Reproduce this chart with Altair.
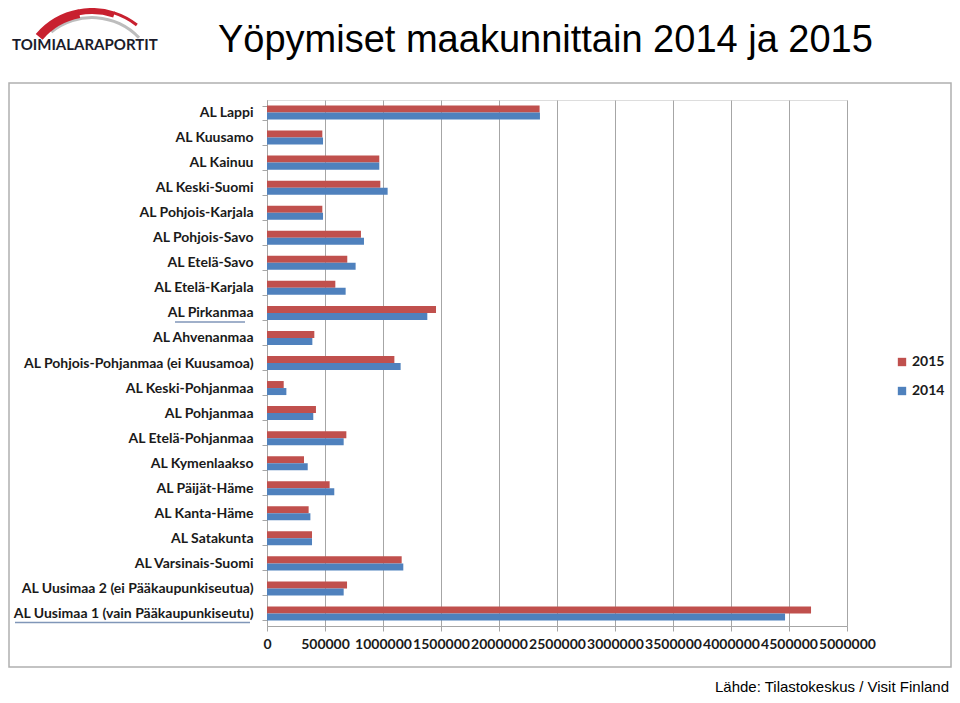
import altair as alt
import pandas as pd

regions = [
    "AL Lappi", "AL Kuusamo", "AL Kainuu", "AL Keski-Suomi", "AL Pohjois-Karjala",
    "AL Pohjois-Savo", "AL Etelä-Savo", "AL Etelä-Karjala", "AL Pirkanmaa",
    "AL Ahvenanmaa", "AL Pohjois-Pohjanmaa (ei Kuusamoa)", "AL Keski-Pohjanmaa",
    "AL Pohjanmaa", "AL Etelä-Pohjanmaa", "AL Kymenlaakso", "AL Päijät-Häme",
    "AL Kanta-Häme", "AL Satakunta", "AL Varsinais-Suomi",
    "AL Uusimaa 2 (ei Pääkaupunkiseutua)", "AL Uusimaa 1 (vain Pääkaupunkiseutu)",
]
v2015 = [2350000, 477000, 968000, 977000, 477000, 810000, 692000, 589000, 1457000,
         408000, 1098000, 144000, 422000, 684000, 319000, 540000, 359000, 388000,
         1161000, 690000, 4690000]
v2014 = [2353000, 483000, 968000, 1040000, 483000, 836000, 764000, 678000, 1382000,
         391000, 1152000, 167000, 399000, 661000, 351000, 580000, 374000, 388000,
         1175000, 661000, 4466000]
years = ["2015", "2014"]
colors = ["#C0504D", "#4F81BD"]
x_ticks = [0, 500000, 1000000, 1500000, 2000000, 2500000, 3000000, 3500000,
           4000000, 4500000, 5000000]

rows = []
for r, a, b in zip(regions, v2015, v2014):
    rows.append({"region": r, "year": "2015", "value": a})
    rows.append({"region": r, "year": "2014", "value": b})
df = pd.DataFrame(rows)

y_enc = alt.Y("region:N", sort=regions,
              scale=alt.Scale(paddingInner=0.44, paddingOuter=0.22),
              axis=alt.Axis(title=None, tickBand="extent", grid=False,
                            domainColor="#a6a6a6", tickColor="#a6a6a6", tickSize=5,
                            labelPadding=9, labelFont="Lato", labelFontSize=14,
                            labelFontWeight="bold", labelColor="#1a1a1a", labelLimit=400))

bars = alt.Chart(df).mark_bar().encode(
    x=alt.X("value:Q", scale=alt.Scale(domain=[0, 5000000], nice=False),
            axis=alt.Axis(values=x_ticks, format="d", title=None, grid=True,
                          gridColor="#a6a6a6", domainColor="#a6a6a6",
                          tickColor="#a6a6a6", tickSize=5, labelPadding=6,
                          labelOverlap=False, labelFlush=False,
                          labelFont="Lato", labelFontSize=14, labelFontWeight="bold",
                          labelColor="#1a1a1a")),
    y=y_enc,
    yOffset=alt.YOffset("year:N", sort=years, scale=alt.Scale(paddingInner=0, paddingOuter=0)),
    color=alt.Color("year:N", sort=years,
                    scale=alt.Scale(domain=years, range=colors),
                    legend=alt.Legend(title=None, orient="none", legendX=628, legendY=255,
                                      symbolType="square", symbolSize=70,
                                      symbolStrokeWidth=0, rowPadding=15, labelOffset=3,
                                      labelFont="Lato", labelFontSize=14,
                                      labelFontWeight="bold", labelColor="#1a1a1a")),
)

one = alt.Data(values=[{}])

frame = alt.Chart(one).mark_rect(fill=None, stroke="#b0b0b0", strokeWidth=1.5).encode(
    x=alt.value(-258), x2=alt.value(684), y=alt.value(-17), y2=alt.value(567)
)

underline_pirkanmaa = alt.Chart(alt.Data(values=[{"region": "AL Pirkanmaa"}])).mark_rule(
    color="#8096b8", strokeWidth=1.5, yOffset=9
).encode(y=alt.Y("region:N", sort=regions), x=alt.value(-92), x2=alt.value(-22))

underline_uusimaa = alt.Chart(alt.Data(values=[{"region": "AL Uusimaa 1 (vain Pääkaupunkiseutu)"}])).mark_rule(
    color="#8096b8", strokeWidth=1.5, yOffset=9
).encode(y=alt.Y("region:N", sort=regions), x=alt.value(-252), x2=alt.value(-17))

title = alt.Chart(one).mark_text(
    text="Yöpymiset maakunnittain 2014 ja 2015", font="Liberation Sans",
    fontSize=38, align="left", baseline="alphabetic", color="#000000"
).encode(x=alt.value(-49), y=alt.value(-48))

logo_text = alt.Chart(one).mark_text(
    text="TOIMIALARAPORTIT", font="Lato", fontSize=15, fontWeight="bold",
    align="left", baseline="alphabetic", color="#1b1b2a"
).encode(x=alt.value(-255), y=alt.value(-50))

logo_red_a = alt.Chart(one).mark_arc(
    radius=74, radius2=65, theta=5.42, theta2=6.10, color="#c8202f"
).encode(x=alt.value(-175), y=alt.value(-18))

logo_red_b = alt.Chart(one).mark_arc(
    radius=74, radius2=68, theta=6.09, theta2=6.60, color="#c8202f"
).encode(x=alt.value(-175), y=alt.value(-18))

logo_red_c = alt.Chart(one).mark_arc(
    radius=74, radius2=71, theta=6.59, theta2=6.95, color="#c8202f"
).encode(x=alt.value(-175), y=alt.value(-18))

logo_gray = alt.Chart(one).mark_arc(
    radius=66, radius2=63, theta=5.60, theta2=7.10, color="#bdbdbd"
).encode(x=alt.value(-175), y=alt.value(-18))

source = alt.Chart(one).mark_text(
    text="Lähde: Tilastokeskus / Visit Finland", font="Liberation Sans",
    fontSize=15, align="right", baseline="alphabetic", color="#000000"
).encode(x=alt.value(682), y=alt.value(592))

chart = alt.layer(
    frame, bars, underline_pirkanmaa, underline_uusimaa, title,
    logo_gray, logo_red_a, logo_red_b, logo_red_c, logo_text, source
).properties(
    width=580, height=526,
    autosize=alt.AutoSizeParams(type="none"),
    padding={"left": 259, "top": 92, "right": 105, "bottom": 69},
).configure_view(stroke=None).configure(background="white")

chart.save("out.html", embed_options={"renderer": "svg", "actions": False})
